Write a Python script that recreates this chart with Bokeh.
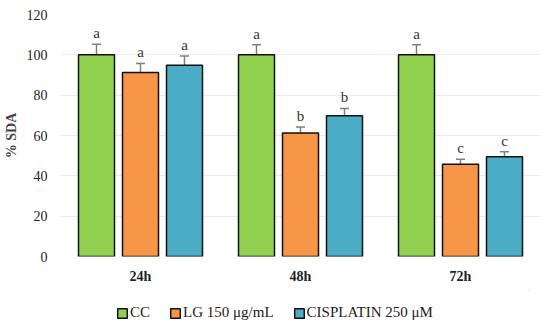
from bokeh.plotting import figure
from bokeh.models import ColumnDataSource, Whisker, TeeHead, Legend, LegendItem, FactorRange
from bokeh.layouts import column
from bokeh.transform import dodge
from bokeh.core.properties import value
from bokeh.embed import file_html
from bokeh.resources import INLINE

times = ["24h", "48h", "72h"]
series = ["CC", "LG 150 μg/mL", "CISPLATIN 250 μM"]
cc = [100, 100, 100]
lg = [91.2, 61.2, 45.8]
cis = [94.8, 69.8, 49.5]
cc_err = [5.2, 5.0, 5.0]
lg_err = [4.5, 3.0, 2.4]
cis_err = [4.6, 3.6, 2.4]
cc_lab = ["a", "a", "a"]
lg_lab = ["a", "b", "c"]
cis_lab = ["a", "b", "c"]
colors = ["#92D050", "#F79646", "#4BACC6"]

FONT = "Liberation Serif"

p = figure(x_range=FactorRange(*times), y_range=(0, 120), frame_width=480, frame_height=242,
           output_backend="svg", toolbar_location=None,
           min_border_left=50, min_border_right=0, min_border_top=14, min_border_bottom=34)
p.outline_line_color = None
p.xgrid.grid_line_color = None
p.ygrid.grid_line_color = "#EBEBEB"
p.yaxis.ticker = [0, 20, 40, 60, 80, 100, 120]
for ax in (p.xaxis, p.yaxis):
    ax.axis_line_color = None
    ax.major_tick_line_color = None
    ax.minor_tick_line_color = None
    ax.major_label_text_font = FONT
    ax.major_label_text_font_size = "14px"
    ax.major_label_text_color = "#222222"
p.xaxis.major_label_text_font_style = "bold"
p.xaxis.major_label_standoff = 6
p.yaxis.major_label_standoff = 7
p.yaxis.axis_label = "% SDA"
p.yaxis.axis_label_text_font = FONT
p.yaxis.axis_label_text_font_style = "bold"
p.yaxis.axis_label_text_font_size = "14px"
p.yaxis.axis_label_standoff = 5

offsets = [-0.275, 0.0, 0.275]
vals = [cc, lg, cis]
errs = [cc_err, lg_err, cis_err]
labs = [cc_lab, lg_lab, cis_lab]
for v, e, l, c, off in zip(vals, errs, labs, colors, offsets):
    src = ColumnDataSource(dict(t=times, v=v, up=[a + b for a, b in zip(v, e)],
                                ly=[a + b + 1.5 for a, b in zip(v, e)], lab=l))
    p.vbar(x=dodge("t", off, range=p.x_range), top="v", width=0.225, source=src,
           fill_color=c, line_color="#111111", line_width=1.5)
    w = Whisker(base=dodge("t", off, range=p.x_range), upper="up", lower="v", source=src,
                line_color="#7F7F7F", line_width=1.5,
                upper_head=TeeHead(size=9, line_color="#7F7F7F", line_width=1.5), lower_head=None)
    p.add_layout(w)
    p.text(x=dodge("t", off, range=p.x_range), y="ly", text="lab", source=src,
           text_align="center", text_baseline="bottom", text_font=value(FONT),
           text_font_size="15px", text_color="#333333")

# legend strip
lf = figure(width=530, height=31, output_backend="svg", toolbar_location=None,
            x_range=(0, 1), y_range=(0, 1), min_border=0)
lf.axis.visible = False
lf.grid.visible = False
lf.outline_line_color = None
items = []
for name, c in zip(series, colors):
    r = lf.vbar(x=[1e6], top=[1e6], bottom=[1e6 - 1], width=0.1,
                fill_color=c, line_color="#111111", line_width=1.5)
    items.append(LegendItem(label=name, renderers=[r]))
legend = Legend(items=items, orientation="horizontal", location=(56, 0),
                label_text_font=FONT, label_text_font_size="15px", label_text_color="#222222",
                glyph_width=12, glyph_height=12, spacing=19, border_line_color=None,
                background_fill_alpha=0, padding=2, margin=0, label_standoff=2)
lf.add_layout(legend)

open("out.html", "w").write(file_html(column(p, lf, spacing=0), INLINE))
